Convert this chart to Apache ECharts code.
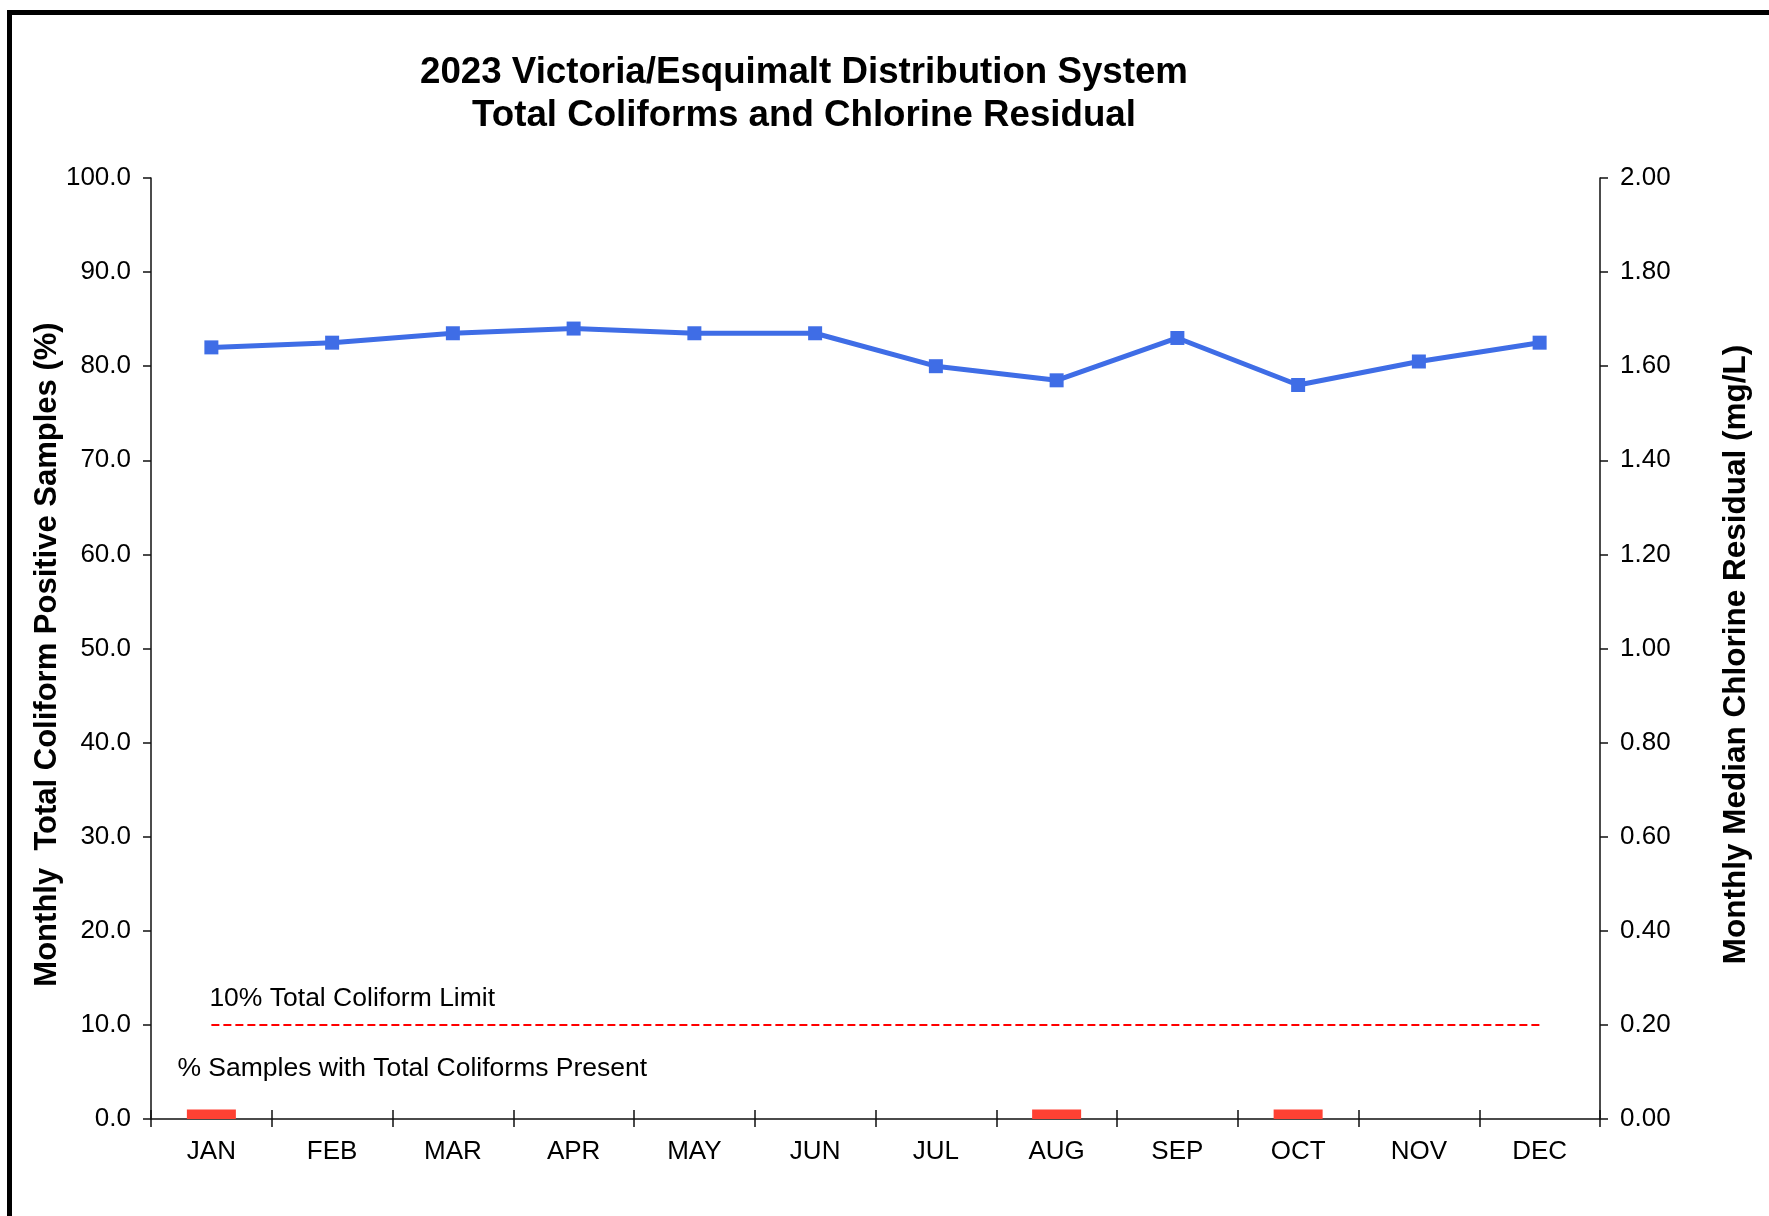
<!DOCTYPE html>
<html>
<head>
<meta charset="utf-8">
<script src="https://cdn.jsdelivr.net/npm/echarts@6/dist/echarts.min.js"></script>
<style>
  html, body { margin: 0; padding: 0; background: #fff; }
  #chart { width: 1769px; height: 1216px; }
</style>
</head>
<body>
<div id="chart"></div>
<script>
// Months on the category axis
const months = ['JAN', 'FEB', 'MAR', 'APR', 'MAY', 'JUN', 'JUL', 'AUG', 'SEP', 'OCT', 'NOV', 'DEC'];

// % of samples with total coliforms present (left axis)
const coliformPct = [1.0, 0, 0, 0, 0, 0, 0, 1.0, 0, 1.0, 0, 0];

// Monthly median chlorine residual, mg/L (right axis)
const chlorine = [1.64, 1.65, 1.67, 1.68, 1.67, 1.67, 1.60, 1.57, 1.66, 1.56, 1.61, 1.65];

// 10% total coliform limit (left axis)
const limitPct = [10, 10, 10, 10, 10, 10, 10, 10, 10, 10, 10, 10];

const titleLines = ['2023 Victoria/Esquimalt Distribution System', 'Total Coliforms and Chlorine Residual'];
const leftAxisName = 'Monthly  Total Coliform Positive Samples (%)';
const rightAxisName = 'Monthly Median Chlorine Residual (mg/L)';
const limitLabel = '10% Total Coliform Limit';
const barLabel = '% Samples with Total Coliforms Present';

const FONT = '"Liberation Sans", Arial, Helvetica, sans-serif';
const AXIS_COLOR = '#111';

const chart = echarts.init(document.getElementById('chart'), null, { renderer: 'canvas' });

const option = {
  backgroundColor: '#fff',
  animation: false,
  textStyle: { fontFamily: FONT, color: '#000' },
  title: {
    text: titleLines.join('\n'),
    left: 799,
    top: 46,
    textAlign: 'center',
    textStyle: { fontFamily: FONT, fontSize: 36.7, fontWeight: 'bold', lineHeight: 43, color: '#000' }
  },
  grid: { left: 151, right: 169, top: 178, bottom: 97, containLabel: false },
  xAxis: [
    {
      type: 'category',
      data: months,
      position: 'bottom',
      boundaryGap: true,
      axisLine: { show: true, lineStyle: { color: AXIS_COLOR, width: 1.5 } },
      axisTick: { show: true, inside: false, length: 8, lineStyle: { color: AXIS_COLOR, width: 1.5 } },
      axisLabel: { fontFamily: FONT, fontSize: 26, color: '#000', margin: 20 },
      splitLine: { show: false }
    },
    {
      type: 'category',
      data: months,
      position: 'bottom',
      boundaryGap: true,
      axisLine: { show: false },
      axisTick: { show: true, inside: true, length: 9, lineStyle: { color: AXIS_COLOR, width: 1.5 } },
      axisLabel: { show: false },
      splitLine: { show: false }
    }
  ],
  yAxis: [
    {
      type: 'value',
      position: 'left',
      min: 0,
      max: 100,
      interval: 10,
      name: leftAxisName,
      nameLocation: 'middle',
      nameRotate: 90,
      nameGap: 88,
      nameMoveOverlap: false,
      nameTextStyle: { fontFamily: FONT, fontSize: 31, fontWeight: 'bold', color: '#000', padding: [0, 12, 0, 0] },
      axisLine: { show: true, lineStyle: { color: AXIS_COLOR, width: 1.5 } },
      axisTick: { show: true, inside: false, length: 8, lineStyle: { color: AXIS_COLOR, width: 1.5 } },
      axisLabel: { fontFamily: FONT, fontSize: 26, color: '#000', margin: 20, formatter: v => v.toFixed(1) },
      splitLine: { show: false }
    },
    {
      type: 'value',
      position: 'right',
      min: 0,
      max: 2,
      interval: 0.2,
      name: rightAxisName,
      nameLocation: 'middle',
      nameRotate: 90,
      nameGap: 120,
      nameTextStyle: { fontFamily: FONT, fontSize: 31.5, fontWeight: 'bold', color: '#000', padding: [0, 12, 0, 0] },
      axisLine: { show: true, lineStyle: { color: AXIS_COLOR, width: 1.5 } },
      axisTick: { show: true, inside: false, length: 8, lineStyle: { color: AXIS_COLOR, width: 1.5 } },
      axisLabel: { fontFamily: FONT, fontSize: 26, color: '#000', margin: 20, formatter: v => v.toFixed(2) },
      splitLine: { show: false }
    }
  ],
  series: [
    {
      name: barLabel,
      type: 'bar',
      xAxisIndex: 0,
      yAxisIndex: 0,
      data: coliformPct,
      barWidth: 49,
      itemStyle: { color: '#FF4133' },
      z: 2
    },
    {
      name: limitLabel,
      type: 'line',
      xAxisIndex: 0,
      yAxisIndex: 0,
      data: limitPct,
      symbol: 'none',
      lineStyle: { color: '#FF0000', width: 2, type: [8, 4] },
      z: 3
    },
    {
      name: 'Chlorine Residual',
      type: 'line',
      xAxisIndex: 0,
      yAxisIndex: 1,
      data: chlorine,
      symbol: 'rect',
      symbolSize: 14,
      lineStyle: { color: '#3F6DE6', width: 5 },
      itemStyle: { color: '#3F6DE6' },
      z: 4
    }
  ]
};

chart.setOption(option);

// Annotation texts anchored to the axes, plus the outer frame
const limitPt = chart.convertToPixel({ xAxisIndex: 0, yAxisIndex: 0 }, [months[0], limitPct[0]]);
const zeroPt = chart.convertToPixel({ xAxisIndex: 0, yAxisIndex: 0 }, [months[0], 0]);

chart.setOption({
  graphic: [
    {
      type: 'rect',
      shape: { x: 9.5, y: 12.5, width: 1800, height: 1300 },
      style: { fill: 'none', stroke: '#000', lineWidth: 5 },
      silent: true,
      z: 10
    },
    {
      type: 'text',
      x: limitPt[0] - 2,
      y: limitPt[1] - 26,
      style: { text: limitLabel, fontFamily: FONT, fontSize: 26.5, fill: '#000', align: 'left', verticalAlign: 'middle' },
      silent: true
    },
    {
      type: 'text',
      x: zeroPt[0] - 34,
      y: zeroPt[1] - 50,
      style: { text: barLabel, fontFamily: FONT, fontSize: 26.5, fill: '#000', align: 'left', verticalAlign: 'middle' },
      silent: true
    }
  ]
});
</script>
</body>
</html>
